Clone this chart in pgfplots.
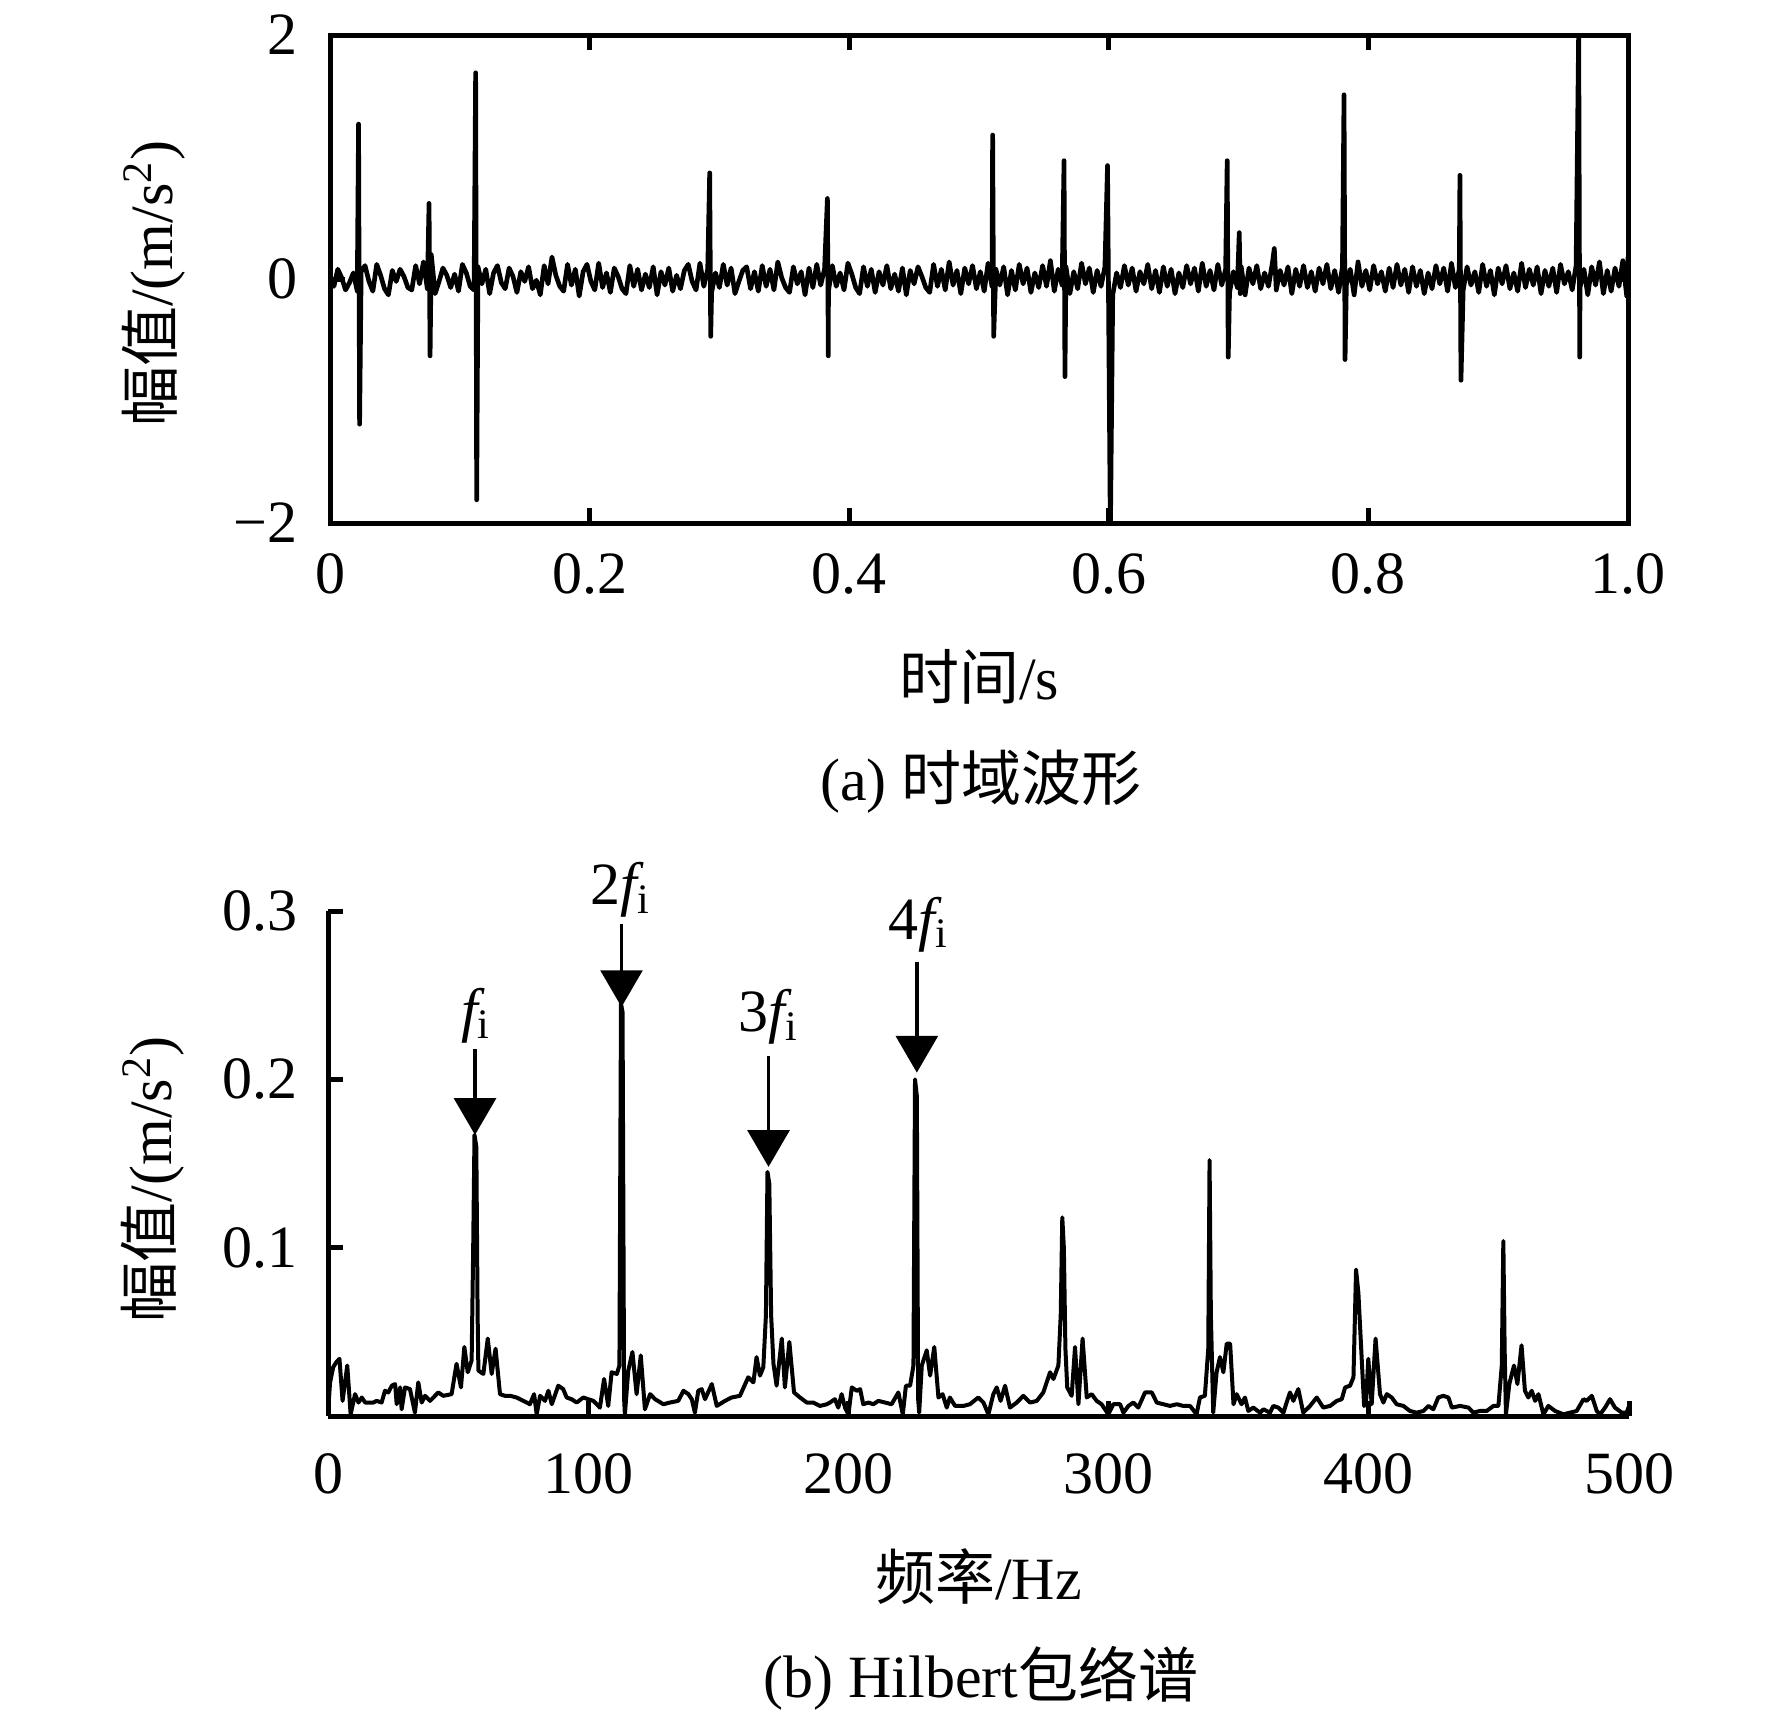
\documentclass[border=0pt]{standalone}
\usepackage{fontspec}
\setmainfont{Liberation Serif}
\newfontfamily\cjk{Noto Sans CJK SC}
\usepackage{pgfplots}
\pgfplotsset{compat=1.18}
\usetikzlibrary{arrows.meta}
\begin{document}
\fontsize{18}{21}\selectfont
\begin{tikzpicture}
\useasboundingbox (0,0) rectangle (531.6pt,-516pt);
\pgfplotsset{
  every axis/.append style={
    scale only axis, anchor=south west,
    axis line style={line width=1.5pt},
    tick style={line width=1.5pt, black},
    major tick length=4.5pt,
    clip mode=individual,
  }
}
\begin{axis}[
  at={(99pt,-156.9pt)},
  width=389.4pt, height=146.4pt,
  xmin=0, xmax=1, ymin=-2, ymax=2,
  xtick={0,0.2,0.4,0.6,0.8,1.0},
  xticklabels={0,0.2,0.4,0.6,0.8,1.0},
  ytick={-2,0,2}, yticklabels={−2,0,2},
  xticklabel style={yshift=-3pt},
  yticklabel style={xshift=-3.5pt},
  xlabel={{\cjk 时间}/s},
  ylabel={{\cjk 幅值}/(m/s\textsuperscript{2})},
  xlabel style={at={(axis description cs:0.5,-0.316)}, anchor=center},
  ylabel style={at={(axis description cs:-0.136,0.49)}, anchor=center},
]
\addplot[black, line width=1.4pt, line join=round] coordinates {
(0,0.02)(0.003,-0.06)(0.006,0.08)(0.009,0.01)(0.012,-0.09)(0.015,-0.03)(0.018,0.05)(0.021,-0.10)(0.0220,1.27)(0.0228,-1.19)(0.024,0.06)(0.027,0.11)
(0.030,-0.02)(0.033,-0.10)(0.036,0.12)(0.039,0.03)(0.042,-0.08)(0.045,-0.13)(0.048,0.07)(0.051,-0.02)(0.054,0.08)(0.057,0.02)
(0.060,-0.07)(0.063,-0.09)(0.066,0.11)(0.069,-0.04)(0.072,0.14)(0.075,-0.08)(0.0763,0.62)(0.0771,-0.63)(0.078,0.20)(0.081,-0.12)(0.084,-0.02)(0.087,0.09)
(0.090,0.03)(0.093,-0.07)(0.096,0.04)(0.099,-0.10)(0.102,0.12)(0.105,0.05)(0.108,-0.06)(0.111,-0.09)(0.1122,1.69)(0.1130,-1.81)(0.114,0.10)(0.117,-0.04)
(0.120,0.08)(0.123,-0.12)(0.126,0.05)(0.129,0.11)(0.132,-0.03)(0.135,-0.08)(0.138,0.09)(0.141,0.02)(0.144,-0.11)(0.147,0.06)
(0.150,-0.02)(0.153,0.10)(0.156,-0.08)(0.159,-0.01)(0.162,-0.13)(0.165,0.11)(0.168,-0.04)(0.171,0.18)(0.174,0.03)(0.177,-0.06)
(0.180,-0.10)(0.183,0.12)(0.186,-0.05)(0.189,0.08)(0.192,-0.14)(0.195,0.06)(0.198,0.12)(0.201,-0.02)(0.204,-0.09)(0.207,0.13)
(0.210,-0.07)(0.213,0.05)(0.216,-0.11)(0.219,0.09)(0.222,0.02)(0.225,-0.08)(0.228,-0.12)(0.231,0.11)(0.234,-0.06)(0.237,0.08)
(0.240,-0.09)(0.243,0.04)(0.246,-0.07)(0.249,0.10)(0.252,-0.13)(0.255,0.06)(0.258,-0.05)(0.261,0.09)(0.264,-0.10)(0.267,0.03)
(0.270,-0.08)(0.273,0.07)(0.276,0.12)(0.279,-0.02)(0.282,-0.09)(0.285,0.13)(0.288,-0.06)(0.291,0.08)(0.2925,0.87)(0.2933,-0.47)(0.294,-0.11)(0.297,0.05)
(0.300,-0.07)(0.303,0.12)(0.306,-0.05)(0.309,0.09)(0.312,-0.12)(0.315,-0.02)(0.318,0.07)(0.321,0.10)(0.324,-0.08)(0.327,0.06)
(0.330,-0.10)(0.333,0.11)(0.336,-0.06)(0.339,0.08)(0.342,-0.09)(0.345,0.14)(0.348,0.01)(0.351,-0.07)(0.354,-0.11)(0.357,0.10)
(0.360,-0.04)(0.363,0.06)(0.366,-0.13)(0.369,0.09)(0.372,-0.07)(0.375,0.12)(0.378,-0.05)(0.381,0.08)(0.3832,0.66)(0.3839,-0.63)(0.384,-0.10)(0.387,0.11)
(0.390,-0.06)(0.393,0.05)(0.396,-0.09)(0.399,0.13)(0.402,0.04)(0.405,-0.07)(0.408,-0.12)(0.411,0.10)(0.414,-0.06)(0.417,0.08)
(0.420,-0.11)(0.423,0.06)(0.426,-0.05)(0.429,0.11)(0.432,-0.08)(0.435,0.04)(0.438,-0.10)(0.441,0.09)(0.444,-0.13)(0.447,0.07)
(0.450,-0.04)(0.453,0.10)(0.456,0.02)(0.459,-0.07)(0.462,-0.11)(0.465,0.12)(0.468,-0.06)(0.471,0.08)(0.474,-0.09)(0.477,0.14)
(0.480,-0.05)(0.483,0.07)(0.486,-0.12)(0.489,0.09)(0.492,-0.04)(0.495,0.11)(0.498,-0.08)(0.501,0.06)(0.504,-0.10)(0.507,0.13)
(0.510,-0.06)(0.5105,1.18)(0.5113,-0.47)(0.513,0.08)(0.516,-0.05)(0.519,0.10)(0.522,-0.13)(0.525,0.07)(0.528,-0.09)(0.531,0.12)(0.534,-0.04)(0.537,0.09)
(0.540,-0.11)(0.543,0.05)(0.546,-0.07)(0.549,0.11)(0.552,-0.06)(0.555,0.15)(0.558,-0.10)(0.561,0.08)(0.564,-0.05)(0.5655,0.97)(0.5662,-0.80)(0.567,0.10)
(0.570,-0.12)(0.573,0.06)(0.576,-0.08)(0.579,0.13)(0.582,-0.04)(0.585,0.09)(0.588,-0.11)(0.591,0.07)(0.594,-0.06)(0.597,0.10)(0.5990,0.93)(0.6012,-2.1)
(0.603,-0.13)(0.606,0.05)(0.609,-0.07)(0.612,0.11)(0.615,-0.05)(0.618,0.09)(0.621,-0.10)(0.624,0.06)(0.627,-0.04)
(0.630,0.12)(0.633,-0.08)(0.636,0.07)(0.639,-0.11)(0.642,0.10)(0.645,-0.06)(0.648,0.08)(0.651,-0.12)(0.654,0.05)(0.657,-0.07)
(0.660,0.11)(0.663,-0.04)(0.666,0.09)(0.669,-0.10)(0.672,0.13)(0.675,-0.06)(0.678,0.07)(0.681,-0.09)(0.684,0.12)(0.687,-0.05)
(0.690,0.08)(0.6912,0.97)(0.6920,-0.64)(0.693,-0.11)(0.696,0.06)(0.699,-0.07)(0.7005,0.38)(0.7012,-0.12)(0.702,0.10)(0.705,-0.13)(0.708,0.09)(0.711,-0.04)(0.714,0.11)(0.717,-0.08)
(0.720,0.05)(0.723,-0.06)(0.726,0.13)(0.7275,0.25)(0.729,-0.09)(0.732,0.07)(0.735,-0.05)(0.738,0.10)(0.741,-0.12)(0.744,0.08)(0.747,-0.06)
(0.750,0.11)(0.753,-0.07)(0.756,0.06)(0.759,-0.10)(0.762,0.09)(0.765,-0.04)(0.768,0.12)(0.771,-0.08)(0.774,0.07)(0.777,-0.11)
(0.780,0.10)(0.7812,1.51)(0.7820,-0.66)(0.783,-0.05)(0.786,0.08)(0.789,-0.13)(0.792,0.14)(0.795,-0.06)(0.798,0.07)(0.801,-0.09)(0.804,0.11)(0.807,-0.04)
(0.810,0.06)(0.813,-0.10)(0.816,0.09)(0.819,-0.07)(0.822,0.12)(0.825,-0.05)(0.828,0.08)(0.831,-0.11)(0.834,0.10)(0.837,-0.06)
(0.840,0.07)(0.843,-0.12)(0.846,0.05)(0.849,-0.08)(0.852,0.11)(0.855,-0.04)(0.858,0.09)(0.861,-0.10)(0.864,0.13)(0.867,-0.07)
(0.870,0.08)(0.8705,0.85)(0.8713,-0.83)(0.873,-0.09)(0.876,0.10)(0.879,-0.05)(0.882,0.06)(0.885,-0.11)(0.888,0.12)(0.891,-0.06)(0.894,0.07)(0.897,-0.13)
(0.900,0.09)(0.903,-0.04)(0.906,0.11)(0.909,-0.08)(0.912,0.05)(0.915,-0.10)(0.918,0.13)(0.921,-0.07)(0.924,0.08)(0.927,-0.05)
(0.930,0.10)(0.933,-0.12)(0.936,0.07)(0.939,-0.06)(0.942,0.09)(0.945,-0.11)(0.948,0.12)(0.951,-0.04)(0.954,0.06)(0.957,-0.09)
(0.960,0.11)(0.9620,2.05)(0.9628,-0.64)(0.963,-0.07)(0.966,0.08)(0.969,-0.13)(0.972,0.10)(0.975,-0.05)(0.978,0.14)(0.981,-0.12)(0.984,0.07)(0.987,-0.10)
(0.990,0.09)(0.993,-0.06)(0.996,0.15)(0.999,-0.14)(1.0,0.18)
};
\end{axis}
\node at (294.3pt,-234.6pt) {(a) {\cjk 时域波形}};
\begin{axis}[
  at={(98.4pt,-424.8pt)},
  width=390.3pt, height=151.5pt,
  xmin=0, xmax=500, ymin=0, ymax=0.3,
  axis x line*=bottom, axis y line*=left,
  axis line style={-},
  xtick={0,100,200,300,400,500},
  xticklabels={0,100,200,300,400,500},
  ytick={0.1,0.2,0.3}, yticklabels={0.1,0.2,0.3},
  xticklabel style={yshift=-5pt},
  yticklabel style={xshift=-3pt},
  xlabel={{\cjk 频率}/Hz},
  ylabel={{\cjk 幅值}/(m/s\textsuperscript{2})},
  xlabel style={at={(axis description cs:0.5,-0.317)}, anchor=center},
  ylabel style={at={(axis description cs:-0.1345,0.469)}, anchor=center},
]
\addplot[black, line width=1.2pt, line join=round] coordinates {
(0,0.002)(0.8,0.020)(2.0,0.029)(3.2,0.032)(4.4,0.034)(5.6,0.009)(7.4,0.030)(8.7,0.001)(10.4,0.013)(11.7,0.008)
(13.0,0.011)(14.3,0.008)(17.4,0.008)(18.7,0.009)(20.6,0.008)(21.9,0.015)(23.2,0.014)(24.5,0.018)(25.8,0.019)(26.4,0.007)
(27.7,0.017)(28.3,0.004)(29.6,0.017)(31.5,0.016)(33.4,0.002)(34.7,0.020)(36.0,0.008)(37.3,0.012)(39.2,0.009)(42.4,0.014)
(44.3,0.012)(47.5,0.013)(49.4,0.031)(51.1,0.017)(52.4,0.041)(53.7,0.026)(55.2,0.033)(55.8,0.100)(56.3,0.167)(57.0,0.160)
(57.5,0.060)(57.8,0.027)(59.7,0.025)(61.4,0.046)(62.9,0.025)(64.4,0.040)(66.1,0.013)(68.0,0.012)(70.0,0.012)(72.5,0.011)
(75.1,0.009)(77.6,0.007)(79.2,0.013)(80.2,0.001)(81.5,0.012)(83.4,0.009)(84.7,0.015)(86.0,0.007)(88.5,0.018)(90.4,0.016)
(91.7,0.011)(93.6,0.010)(95.6,0.008)(98.1,0.011)(100.0,0.010)(102.0,0.009)(104.5,0.005)(106.1,0.022)(107.7,0.006)(109.0,0.026)
(111.0,0.025)(112.0,0.030)(112.6,0.245)(113.2,0.240)(113.8,0.010)(114.1,0.001)(115.4,0.027)(117.0,0.038)(118.6,0.013)(120.2,0.036)
(121.8,0.004)(123.8,0.013)(125.7,0.010)(128.9,0.007)(131.4,0.008)(134.6,0.009)(136.6,0.015)(138.5,0.013)(139.8,0.010)(141.0,0.002)
(142.3,0.015)(143.6,0.016)(144.9,0.010)(147.5,0.019)(149.4,0.006)(152.6,0.009)(155.1,0.011)(158.3,0.012)(161.5,0.023)(163.5,0.020)
(164.7,0.035)(166.0,0.024)(167.3,0.029)(168.3,0.060)(168.9,0.145)(169.6,0.138)(170.3,0.060)(171.2,0.031)(172.4,0.018)(174.4,0.046)
(175.6,0.017)(177.3,0.044)(179.1,0.014)(181.4,0.011)(184.0,0.008)(186.5,0.008)(189.1,0.006)(191.7,0.007)
(192.9,0.008)(194.8,0.010)(196.1,0.005)(197.4,0.013)(198.7,0.005)(200.0,0.001)(201.3,0.017)(203.2,0.015)(204.5,0.016)(205.7,0.007)
(207.7,0.008)(209.6,0.007)(211.5,0.009)(214.1,0.008)(216.6,0.007)(219.2,0.014)(220.9,0.001)(222.1,0.018)(223.7,0.018)(225.0,0.030)
(225.6,0.200)(226.3,0.190)(226.8,0.010)(227.2,0.002)(228.2,0.030)(230.1,0.039)(231.4,0.024)(233.0,0.041)(234.6,0.011)(236.2,0.013)
(237.8,0.005)(239.0,0.011)(241.0,0.006)(244.2,0.006)(246.7,0.007)(249.9,0.011)(251.9,0.008)(253.8,0.001)(255.7,0.013)(257.0,0.017)
(258.5,0.009)(260.2,0.018)(262.1,0.005)(264.7,0.008)(267.2,0.012)(269.8,0.008)(272.4,0.009)(274.9,0.014)(277.5,0.026)(278.8,0.022)
(280.7,0.030)(281.6,0.060)(282.2,0.118)(282.8,0.100)(283.4,0.040)(284.1,0.017)(285.8,0.012)(287.1,0.041)(288.4,0.007)(290.0,0.046)
(291.6,0.011)(293.5,0.013)(295.4,0.009)(297.3,0.007)(299.9,0.001)(301.8,0.007)(304.4,0.007)(305.7,0.002)(307.6,0.006)(309.5,0.008)
(311.4,0.005)(314.0,0.014)(316.6,0.014)(318.5,0.008)(321.0,0.007)(323.6,0.006)(326.2,0.007)(328.7,0.006)(331.3,0.006)(333.8,0.001)
(335.1,0.011)(337.0,0.012)(338.3,0.040)(338.8,0.152)(339.3,0.060)(340.2,0.002)(341.5,0.026)(342.8,0.035)(344.1,0.026)(345.4,0.043)
(346.7,0.043)(348.0,0.007)(349.2,0.013)(351.1,0.007)(352.4,0.011)(353.7,0.003)(355.6,0.005)(358.2,0.002)(359.5,0.004)(362.0,0.002)
(363.3,0.006)(365.2,0.005)(367.2,0.002)(368.4,0.008)(369.7,0.014)(371.0,0.009)(372.9,0.016)(374.8,0.002)(377.4,0.006)(380.0,0.011)
(382.5,0.005)(385.1,0.006)(387.7,0.009)(389.6,0.010)(390.9,0.017)(392.8,0.018)(394.1,0.023)(395.1,0.087)(396.0,0.073)(397.3,0.033)
(398.2,0.006)(398.9,0.007)(399.8,0.034)(401.1,0.007)(402.6,0.046)(404.3,0.013)(405.6,0.008)(406.9,0.013)(408.8,0.011)(410.7,0.007)
(413.3,0.006)(415.8,0.003)(418.4,0.002)(421.0,0.003)(422.9,0.006)(424.8,0.004)(426.7,0.011)(428.6,0.012)(430.6,0.011)(431.9,0.005)
(435.1,0.006)(438.3,0.005)(440.2,0.002)(442.7,0.003)(445.3,0.003)(447.9,0.006)(449.8,0.006)(451.1,0.030)(451.7,0.104)(452.2,0.040)
(452.7,0.001)(454.0,0.019)(455.8,0.030)(457.1,0.019)(458.7,0.042)(460.0,0.015)(461.3,0.011)(462.6,0.015)(463.9,0.009)(465.2,0.013)
(467.1,0.001)(469.0,0.006)(471.6,0.003)(474.8,0.001)(477.3,0.002)(479.9,0.003)(482.5,0.010)(483.7,0.009)(485.7,0.012)(487.6,0.003)
(488.9,0.001)(490.8,0.005)(492.7,0.010)(494.6,0.005)(497.2,0.002)(499.1,0.002)(500,0.006)
};
\draw[line width=1.1pt, -{Triangle[length=11pt,width=12.5pt]}] (axis cs:56.5,0.218) -- (axis cs:56.5,0.167);
\draw[line width=1.1pt, -{Triangle[length=11pt,width=12.5pt]}] (axis cs:112.8,0.292) -- (axis cs:112.8,0.243);
\draw[line width=1.1pt, -{Triangle[length=11pt,width=12.5pt]}] (axis cs:169.3,0.214) -- (axis cs:169.3,0.148);
\draw[line width=1.1pt, -{Triangle[length=11pt,width=12.5pt]}] (axis cs:226.3,0.270) -- (axis cs:226.3,0.204);
\node at (axis cs:57,0.238) {{\itshape f}\textsubscript{i}};
\node at (axis cs:112.5,0.3125) {2{\itshape f}\textsubscript{i}};
\node at (axis cs:169.3,0.237) {3{\itshape f}\textsubscript{i}};
\node at (axis cs:227,0.292) {4{\itshape f}\textsubscript{i}};
\end{axis}
\node at (294.3pt,-503.5pt) {(b) Hilbert{\cjk 包络谱}};
\end{tikzpicture}
\end{document}
